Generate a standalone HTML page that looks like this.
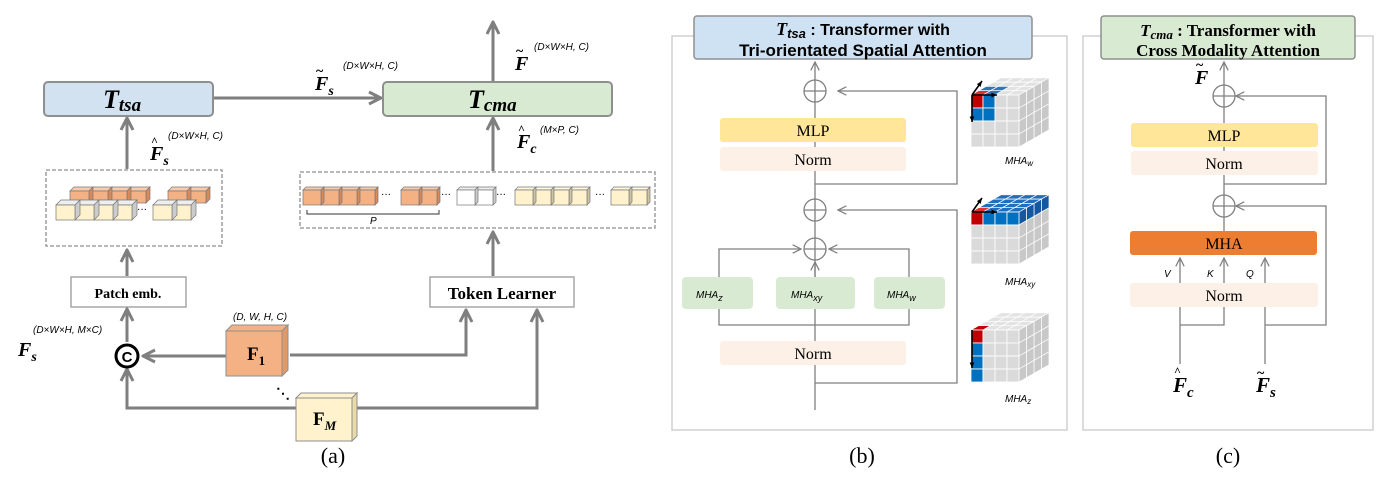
<!DOCTYPE html>
<html><head><meta charset="utf-8"><style>
html,body{margin:0;padding:0;background:#fff;}
svg{display:block;}
text{font-family:"Liberation Serif",serif;}
.bi{font-weight:bold;font-style:italic;}
.sm{font-family:"Liberation Sans",sans-serif;font-style:italic;font-size:10px;}
</style></head><body>
<svg id="s" width="1397" height="484" viewBox="0 0 1397 484" xmlns="http://www.w3.org/2000/svg">
<defs>
<marker id="ah" viewBox="0 0 10 10" refX="9" refY="5" markerWidth="5" markerHeight="5" orient="auto"><path d="M1,1 L9,5 L1,9" fill="none" stroke="#7f7f7f" stroke-width="2"/></marker>
<marker id="at" viewBox="0 0 10 10" refX="9" refY="5" markerWidth="8" markerHeight="8" orient="auto"><path d="M1,1 L9,5 L1,9" fill="none" stroke="#7f7f7f" stroke-width="1.2"/></marker>
</defs>
<g stroke="#7f7f7f" stroke-width="3" fill="none">
<line x1="213" y1="98" x2="381" y2="98" marker-end="url(#ah)"/>
<line x1="493" y1="82" x2="493" y2="22" marker-end="url(#ah)"/>
<line x1="127" y1="169" x2="127" y2="118" marker-end="url(#ah)"/>
<line x1="493" y1="171" x2="493" y2="118" marker-end="url(#ah)"/>
<line x1="127" y1="276" x2="127" y2="250" marker-end="url(#ah)"/>
<line x1="493" y1="276" x2="493" y2="232" marker-end="url(#ah)"/>
<line x1="127" y1="342" x2="127" y2="309" marker-end="url(#ah)"/>
<line x1="226" y1="356" x2="143" y2="356" marker-end="url(#ah)"/>
<polyline points="290,355 466,355 466,310" marker-end="url(#ah)"/>
<polyline points="296,408 127,408 127,369" marker-end="url(#ah)"/>
<polyline points="356,408 537,408 537,310" marker-end="url(#ah)"/>
</g>
<rect x="44" y="82" width="169" height="34" rx="4" fill="#d3e2f1" stroke="#8f8f8f" stroke-width="2"/>
<rect x="383" y="82" width="229" height="34" rx="4" fill="#d9ead3" stroke="#8f8f8f" stroke-width="2"/>
<text x="103" y="108" class="bi" font-size="26">T<tspan font-size="19" dy="3">tsa</tspan></text>
<text x="468" y="108" class="bi" font-size="26">T<tspan font-size="19" dy="3">cma</tspan></text>
<rect x="46" y="170" width="176" height="76" fill="none" stroke="#8f8f8f" stroke-width="1.3" stroke-dasharray="4,2"/>
<rect x="300" y="172" width="355" height="56" fill="none" stroke="#8f8f8f" stroke-width="1.3" stroke-dasharray="4,2"/>
<rect x="71" y="277" width="115" height="30" fill="#fff" stroke="#999" stroke-width="1.3"/>
<text x="128" y="298" text-anchor="middle" font-weight="bold" font-size="14">Patch emb.</text>
<rect x="430" y="277" width="144" height="30" fill="#fff" stroke="#999" stroke-width="1.3"/>
<text x="502" y="299" text-anchor="middle" font-weight="bold" font-size="17">Token Learner</text>
<circle cx="127" cy="356" r="11" fill="#fff" stroke="#000" stroke-width="3"/>
<text x="127" y="362" text-anchor="middle" font-weight="bold" font-size="15" style="font-family:'Liberation Sans',sans-serif">C</text>
<polygon points="226,331 232,325 288,325 282,331" fill="#f4b183" stroke="#8f8f8f"/>
<polygon points="282,331 288,325 288,370 282,376" fill="#e09a6a" stroke="#8f8f8f"/>
<rect x="226" y="331" width="56" height="45" fill="#f4b183" stroke="#8f8f8f"/>
<text x="247" y="360" font-weight="bold" font-size="19">F<tspan font-size="13" dy="5">1</tspan></text>
<polygon points="296,398 301,393 357,393 352,398" fill="#fff2cc" stroke="#8f8f8f"/>
<polygon points="352,398 357,393 357,436 352,441" fill="#e8dba8" stroke="#8f8f8f"/>
<rect x="296" y="398" width="56" height="43" fill="#fff2cc" stroke="#8f8f8f"/>
<text x="313" y="425" font-weight="bold" font-size="19">F<tspan font-size="13" dy="5" font-style="italic">M</tspan></text>
<text x="276" y="398" font-size="14" font-weight="bold">⋱</text>
<text x="18" y="356" class="bi" font-size="20">F<tspan font-size="14" dy="5">s</tspan></text>
<text x="33" y="333" class="sm">(D×W×H, M×C)</text>
<text x="233" y="320" class="sm">(D, W, H, C)</text>
<text x="315" y="90" class="bi" font-size="20">F<tspan font-size="14" dy="5">s</tspan></text>
<text x="316" y="75" font-size="14" font-weight="bold">~</text>
<text x="343" y="69" class="sm">(D×W×H, C)</text>
<text x="150" y="160" class="bi" font-size="20">F<tspan font-size="14" dy="5">s</tspan></text>
<text x="151" y="145" font-size="12" font-weight="bold">^</text>
<text x="168" y="139" class="sm">(D×W×H, C)</text>
<text x="515" y="70" class="bi" font-size="20">F</text>
<text x="516" y="55" font-size="14" font-weight="bold">~</text>
<text x="534" y="50" class="sm">(D×W×H, C)</text>
<text x="517" y="148" class="bi" font-size="20">F<tspan font-size="14" dy="5">c</tspan></text>
<text x="518" y="133" font-size="12" font-weight="bold">^</text>
<text x="540" y="133" class="sm">(M×P, C)</text>
<g id="cubes"></g>
<path d="M307,210 V214 H439 V210" fill="none" stroke="#333" stroke-width="1"/>
<text x="370" y="224" class="sm" font-size="8">P</text>
<text x="333" y="463" text-anchor="middle" font-size="22">(a)</text>

<rect x="672" y="36" width="395" height="394" fill="none" stroke="#d0d0d0" stroke-width="1.5"/>
<g stroke="#7f7f7f" stroke-width="1.3" fill="none">
<line x1="815" y1="410" x2="815" y2="62" marker-end="url(#at)"/>
<polyline points="815,184 957,184 957,91 838,91" marker-end="url(#at)"/>
<polyline points="815,383 957,383 957,210 838,210" marker-end="url(#at)"/>
<polyline points="719,277 719,249 801,249" marker-end="url(#at)"/>
<polyline points="909,277 909,249 829,249" marker-end="url(#at)"/>
<line x1="815" y1="277" x2="815" y2="262" marker-end="url(#at)"/>
<polyline points="719,309 719,325 909,325 909,309"/>
</g>
<rect x="720" y="118" width="186" height="24" rx="3" fill="#ffe699"/>
<rect x="720" y="147" width="186" height="24" rx="3" fill="#fdf1e7"/>
<rect x="720" y="341" width="186" height="24" rx="3" fill="#fdf1e7"/>
<rect x="682" y="277" width="71" height="32" rx="4" fill="#d9ead3"/>
<rect x="776" y="277" width="79" height="32" rx="4" fill="#d9ead3"/>
<rect x="874" y="277" width="71" height="32" rx="4" fill="#d9ead3"/>
<text x="813" y="136" text-anchor="middle" font-size="16">MLP</text>
<text x="813" y="165" text-anchor="middle" font-size="16">Norm</text>
<text x="813" y="359" text-anchor="middle" font-size="16">Norm</text>
<text x="696" y="298" class="sm" font-size="12">MHA<tspan font-size="9" dy="3">z</tspan></text>
<text x="791" y="298" class="sm" font-size="12">MHA<tspan font-size="9" dy="3">xy</tspan></text>
<text x="887" y="298" class="sm" font-size="12">MHA<tspan font-size="9" dy="3">w</tspan></text>
<g fill="#fff" stroke="#7f7f7f" stroke-width="1.3">
<circle cx="815" cy="91" r="11"/><circle cx="815" cy="210" r="11"/><circle cx="815" cy="249" r="11"/>
</g>
<path d="M804,91H826M815,80V102M804,210H826M815,199V221M804,249H826M815,238V260" stroke="#7f7f7f" stroke-width="1.3"/>
<rect x="694" y="16" width="338" height="43" rx="3" fill="#cfe2f3" stroke="#8f8f8f" stroke-width="1.5"/>
<text x="863" y="35" text-anchor="middle" font-weight="bold" font-size="16" style="font-family:'Liberation Sans Narrow','Liberation Sans',sans-serif"><tspan font-style="italic" font-size="18" style="font-family:'Liberation Serif',serif">T</tspan><tspan font-style="italic" font-size="13" dy="3">tsa</tspan><tspan dy="-3"> : Transformer with</tspan></text>
<text x="863" y="56" text-anchor="middle" font-weight="bold" font-size="17" style="font-family:'Liberation Sans Narrow','Liberation Sans',sans-serif">Tri-orientated Spatial Attention</text>
<text x="1005" y="164" class="sm" font-size="10">MHA<tspan font-size="8" dy="2">w</tspan></text>
<text x="1005" y="285" class="sm" font-size="10">MHA<tspan font-size="8" dy="2">xy</tspan></text>
<text x="1005" y="402" class="sm" font-size="10">MHA<tspan font-size="8" dy="2">z</tspan></text>
<g id="big"></g>
<text x="862" y="463" text-anchor="middle" font-size="22">(b)</text>

<rect x="1083" y="36" width="290" height="394" fill="none" stroke="#d0d0d0" stroke-width="1.5"/>
<g stroke="#7f7f7f" stroke-width="1.3" fill="none">
<line x1="1224" y1="231" x2="1224" y2="62" marker-end="url(#at)"/>
<polyline points="1224,184 1326,184 1326,96 1236,96" marker-end="url(#at)"/>
<polyline points="1265,325 1326,325 1326,206 1236,206" marker-end="url(#at)"/>
<polyline points="1180,364 1180,258" marker-end="url(#at)"/>
<polyline points="1180,325 1224,325 1224,258" marker-end="url(#at)"/>
<polyline points="1265,364 1265,258" marker-end="url(#at)"/>
</g>
<rect x="1131" y="123" width="187" height="24" rx="3" fill="#ffe699"/>
<rect x="1131" y="151" width="187" height="24" rx="3" fill="#fdf1e7"/>
<rect x="1130" y="231" width="187" height="24" rx="3" fill="#ed7d31"/>
<rect x="1130" y="283" width="188" height="24" rx="3" fill="#fdf1e7"/>
<line x1="1224" y1="147" x2="1224" y2="151" stroke="#7f7f7f"/>
<text x="1224" y="141" text-anchor="middle" font-size="16">MLP</text>
<text x="1224" y="169" text-anchor="middle" font-size="16">Norm</text>
<text x="1224" y="249" text-anchor="middle" font-size="16">MHA</text>
<text x="1224" y="301" text-anchor="middle" font-size="16">Norm</text>
<text x="1164" y="277" class="sm" font-size="12">V</text>
<text x="1207" y="277" class="sm" font-size="12">K</text>
<text x="1246" y="277" class="sm" font-size="12">Q</text>
<g fill="#fff" stroke="#7f7f7f" stroke-width="1.3">
<circle cx="1224" cy="96" r="11"/><circle cx="1224" cy="206" r="11"/>
</g>
<path d="M1213,96H1235M1224,85V107M1213,206H1235M1224,195V217" stroke="#7f7f7f" stroke-width="1.3"/>
<rect x="1101" y="16" width="254" height="43" rx="3" fill="#d9ead3" stroke="#8f8f8f" stroke-width="1.5"/>
<text x="1228" y="36" text-anchor="middle" font-weight="bold" font-size="17"><tspan font-style="italic">T</tspan><tspan font-style="italic" font-size="13" dy="3">cma</tspan><tspan dy="-3"> : Transformer with</tspan></text>
<text x="1228" y="56" text-anchor="middle" font-weight="bold" font-size="17">Cross Modality Attention</text>
<text x="1195" y="84" class="bi" font-size="20">F</text>
<text x="1196" y="69" font-size="14" font-weight="bold">~</text>
<text x="1173" y="392" class="bi" font-size="21">F<tspan font-size="15" dy="5">c</tspan></text>
<text x="1174" y="375" font-size="12" font-weight="bold">^</text>
<text x="1256" y="392" class="bi" font-size="21">F<tspan font-size="15" dy="5">s</tspan></text>
<text x="1257" y="377" font-size="14" font-weight="bold">~</text>
<text x="1228" y="463" text-anchor="middle" font-size="22">(c)</text>
</svg>
<script>
var NS="http://www.w3.org/2000/svg";
function el(p,t,a){var e=document.createElementNS(NS,t);for(var k in a)e.setAttribute(k,a[k]);p.appendChild(e);return e;}
var g=document.getElementById("cubes");
function cube(x,y,w,h,d,f,top,side){
 el(g,"polygon",{points:[x,y,x+d,y-d,x+w+d,y-d,x+w,y].join(","),fill:top,stroke:"#777","stroke-width":0.7});
 el(g,"polygon",{points:[x+w,y,x+w+d,y-d,x+w+d,y+h-d,x+w,y+h].join(","),fill:side,stroke:"#777","stroke-width":0.7});
 el(g,"rect",{x:x,y:y,width:w,height:h,fill:f,stroke:"#777","stroke-width":0.7});
}
var O=["#f4b183","#f8cbad","#d9895a"],Y=["#fff2cc","#fff8e0","#ccc3a3"],W=["#fff","#eee","#ccc"];
for(var i=3;i>=0;i--)cube(70+i*19,191,19,12,4,O[0],O[1],O[2]);
for(var i=1;i>=0;i--)cube(168+i*19,191,19,12,4,O[0],O[1],O[2]);
for(var i=3;i>=0;i--)cube(56+i*19,205,19,15,5,Y[0],"#eee","#ccc");
for(var i=1;i>=0;i--)cube(153+i*19,205,19,15,5,Y[0],"#eee","#ccc");
function row(x0,n,c){for(var i=n-1;i>=0;i--)cube(x0+i*18,190,18,15,3,c[0],c[1],c[2]);}
row(303,4,O);row(401,2,O);row(457,2,W);row(515,4,Y);row(611,2,Y);
function dots(x,y){var t=el(g,"text",{x:x,y:y||198,"font-size":"10"});t.textContent="···";return t;}
dots(381);dots(441);dots(496);dots(595);dots(137,213);
var b=document.getElementById("big");
function bc(x,y,mode){
 var cw=12,ch=13,dx=7.5,dy=4.3;
 for(var r=3;r>=0;r--)for(var c=0;c<4;c++){
  var X=x+c*cw+r*dx,Y=y-r*dy;var f="#e2e2e2";
  if(mode=="xy")f="#1f6fbf";
  if(mode=="w"&&(c<=1&&r<=1))f="#2e75b6";
  if(c==0&&r==0)f=(mode=="z")?"#c00000":"#e03030";
  el(b,"polygon",{points:[X,Y,X+dx,Y-dy,X+dx+cw,Y-dy,X+cw,Y].join(","),fill:f,stroke:"#fff","stroke-width":0.7});
 }
 for(var r=0;r<4;r++)for(var c=3;c>=0;c--){
  var X=x+4*cw+c*dx,Y=y+r*ch-c*dy;var f=(mode=="xy"&&r==0)?"#1558a0":"#c8c8c8";
  el(b,"polygon",{points:[X,Y,X+dx,Y-dy,X+dx,Y-dy+ch,X,Y+ch].join(","),fill:f,stroke:"#fff","stroke-width":0.7});
 }
 for(var r=0;r<4;r++)for(var c=0;c<4;c++){
  var f="#dadada";
  if(mode=="xy"&&r==0)f="#0070c0";
  if(mode=="w"&&r<=1&&c<=1)f="#0070c0";
  if(mode=="z"&&c==0)f="#0070c0";
  if(r==0&&c==0)f="#c00000";
  el(b,"rect",{x:x+c*cw,y:y+r*ch,width:cw,height:ch,fill:f,stroke:"#fff","stroke-width":0.8});
 }
 function ar(x1,y1,x2,y2){el(b,"line",{x1:x1,y1:y1,x2:x2,y2:y2,stroke:"#000","stroke-width":1.6});
  var a=Math.atan2(y2-y1,x2-x1);el(b,"polygon",{points:[x2,y2,x2-6*Math.cos(a-0.4),y2-6*Math.sin(a-0.4),x2-6*Math.cos(a+0.4),y2-6*Math.sin(a+0.4)].join(","),fill:"#000"});}
 if(mode!="z"){ar(x+1,y,x+26,y);ar(x+1,y,x+11,y-14);}
 if(mode!="xy")ar(x+1,y,x+1,mode=="z"?y+38:y+27);
}
bc(971,95,"w");bc(971,212,"xy");bc(971,330,"z");
</script>
</body></html>
